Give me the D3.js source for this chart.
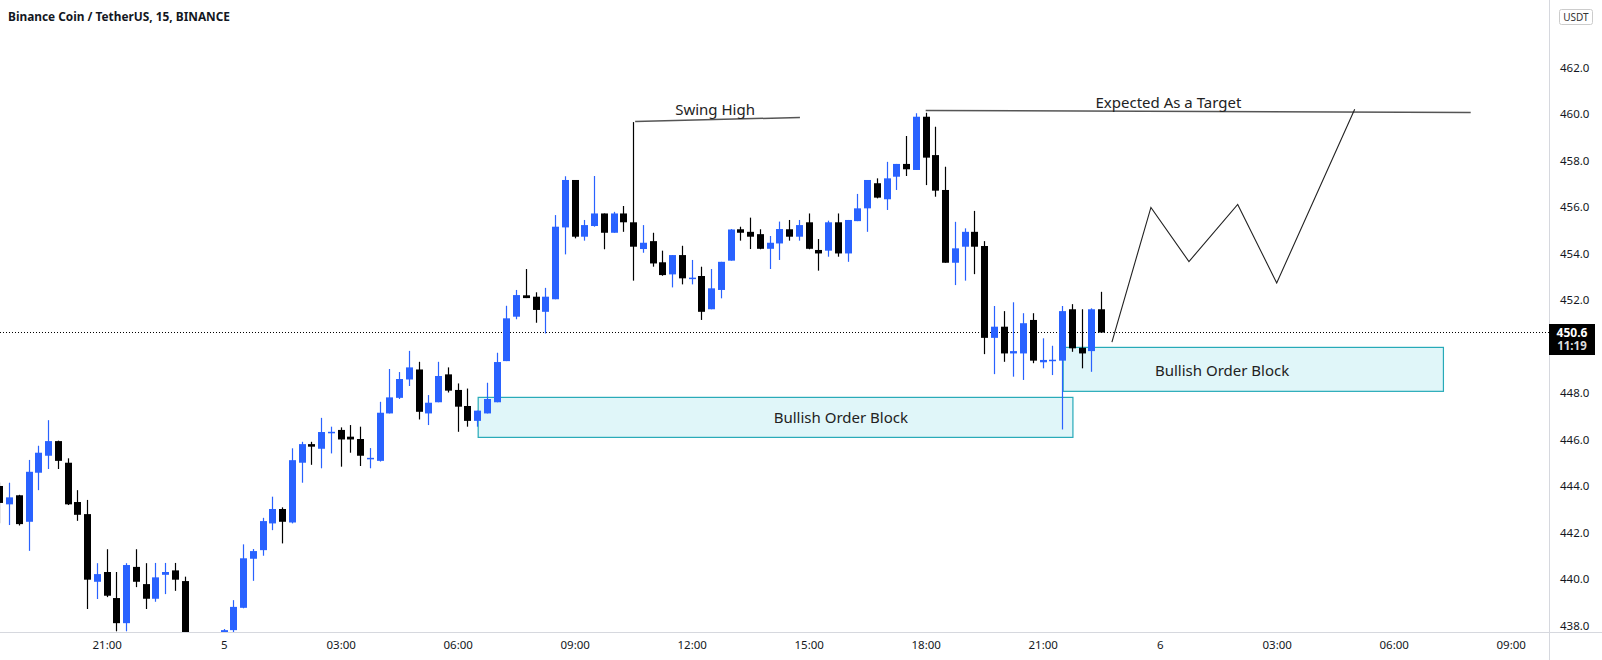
<!DOCTYPE html>
<html><head><meta charset="utf-8">
<script src="https://cdn.jsdelivr.net/npm/d3@7/dist/d3.min.js"></script>
<style>
html,body{margin:0;padding:0;background:#fff;}
svg{display:block;}
</style></head>
<body>
<svg id="c" width="1602" height="660"></svg>
<script>
// ---- DATA ----
const times = ["18:15","18:30","18:45","19:00","19:15","19:30","19:45","20:00","20:15","20:30","20:45","21:00","21:15","21:30","21:45","22:00","22:15","22:30","22:45","23:00","23:15","23:30","23:45",
"00:00","00:15","00:30","00:45","01:00","01:15","01:30","01:45","02:00","02:15","02:30","02:45","03:00","03:15","03:30","03:45","04:00","04:15","04:30","04:45","05:00","05:15","05:30","05:45","06:00","06:15","06:30","06:45","07:00","07:15","07:30","07:45","08:00","08:15","08:30","08:45","09:00","09:15","09:30","09:45","10:00","10:15","10:30","10:45","11:00","11:15","11:30","11:45","12:00","12:15","12:30","12:45","13:00","13:15","13:30","13:45","14:00","14:15","14:30","14:45","15:00","15:15","15:30","15:45","16:00","16:15","16:30","16:45","17:00","17:15","17:30","17:45","18:00","18:15","18:30","18:45","19:00","19:15","19:30","19:45","20:00","20:15","20:30","20:45","21:00","21:15","21:30","21:45","22:00","22:15","22:30"];
const open  = [444.00,443.21,443.60,442.46,444.57,445.30,445.93,445.00,443.31,442.79,439.88,440.30,439.18,438.10,440.52,439.78,439.15,440.18,440.37,439.91,437.30,437.10,436.90,
437.20,437.80,438.76,440.87,441.24,442.39,443.01,442.43,445.00,445.80,445.60,446.28,446.41,446.12,446.02,445.17,445.08,447.12,447.79,448.58,449.01,447.12,447.60,448.80,448.13,447.44,446.80,447.12,447.60,449.37,451.28,452.20,452.14,451.49,452.03,455.12,457.16,454.72,455.18,455.72,454.89,455.72,455.34,454.19,454.53,453.62,453.10,453.93,452.91,453.03,451.60,452.43,453.69,455.04,454.93,454.83,454.20,454.43,455.04,454.72,455.34,454.15,454.12,455.34,454.00,455.39,455.94,457.02,456.33,457.30,457.85,457.59,459.88,458.23,456.73,453.60,454.29,454.93,454.32,450.37,450.85,449.70,449.70,451.14,449.32,449.40,449.39,451.60,449.94,449.80,451.60];
const high  = [444.15,444.14,443.62,445.12,445.73,446.83,445.95,445.19,443.82,443.40,440.68,441.28,440.30,440.68,441.28,440.68,440.69,440.69,440.69,440.10,437.50,437.40,437.50,
437.85,439.09,441.49,441.29,442.63,443.54,443.08,445.62,445.90,445.90,446.93,446.55,446.52,446.62,446.55,445.63,447.62,449.03,448.90,449.81,449.34,447.91,449.34,449.10,448.41,448.19,447.24,448.44,449.73,451.75,452.43,453.33,452.33,452.52,455.65,457.32,457.16,455.44,457.33,455.72,455.79,456.04,459.65,455.22,454.89,454.12,453.93,454.33,453.72,453.43,453.33,453.64,455.05,455.15,455.54,455.04,454.75,455.37,455.44,455.44,455.72,454.62,455.41,455.72,455.44,456.56,457.16,457.23,457.94,457.85,459.05,460.03,460.05,459.45,457.73,455.36,455.08,455.83,454.53,451.74,451.52,451.90,451.43,451.43,450.35,450.03,451.74,451.82,451.60,451.64,452.35];
const low   = [442.40,442.32,442.30,441.21,443.82,444.73,444.73,443.18,442.50,438.71,439.14,439.22,437.75,437.75,439.65,438.71,439.02,439.35,439.49,437.00,436.60,436.50,436.60,
437.00,437.60,438.74,439.92,441.00,442.10,441.53,442.39,444.14,444.91,444.76,445.40,444.83,445.43,444.86,444.76,445.05,447.12,447.74,448.30,446.86,446.62,447.60,448.02,446.33,446.55,446.55,447.12,447.60,449.37,451.17,452.08,451.02,450.56,452.03,453.96,454.65,454.55,455.15,454.18,454.89,454.93,452.83,454.03,453.43,453.04,452.54,452.67,452.67,451.14,451.60,452.07,453.69,454.55,454.19,454.18,453.33,453.72,454.55,454.55,454.18,453.26,453.86,453.86,453.64,455.39,454.93,456.37,455.87,456.73,457.33,457.59,456.94,456.44,453.60,452.64,452.83,453.11,449.67,448.81,449.34,448.70,448.56,449.28,449.06,448.77,446.43,449.77,449.06,448.91,450.60];
const close = [443.27,443.51,442.36,444.61,445.43,445.93,445.08,443.21,442.76,439.97,440.21,439.28,438.10,440.60,439.88,439.15,440.07,440.30,439.97,437.30,437.10,436.90,437.20,
437.80,438.80,440.89,441.20,442.49,443.01,442.46,445.11,445.80,445.69,446.32,446.33,446.00,446.00,445.30,445.21,447.15,447.81,448.60,449.10,447.19,447.58,448.73,448.10,447.41,446.80,447.24,447.74,449.33,451.21,452.21,452.08,451.57,452.14,455.15,457.16,454.72,455.22,455.72,454.89,455.72,455.34,454.29,454.46,453.57,453.07,453.93,452.93,452.96,451.49,452.50,453.64,455.03,454.89,454.72,454.20,454.46,455.05,454.72,455.22,454.20,454.00,455.34,454.00,455.44,455.94,457.16,456.40,457.23,457.85,457.62,459.88,458.12,456.70,453.60,454.22,454.93,454.29,450.37,450.85,449.70,449.80,451.00,449.39,449.42,449.43,451.52,449.92,449.70,451.60,450.60];

const priceTicks = [438,440,442,444,446,448,452,454,456,458,460,462];
const timeTickIdx = [11,23,35,47,59,71,83,95,107,119,131,143,155];
const timeTickLabels = ["21:00","5","03:00","06:00","09:00","12:00","15:00","18:00","21:00","6","03:00","06:00","09:00"];

const lastPrice = 450.6;
const countdown = "11:19";
const title = "Binance Coin / TetherUS, 15, BINANCE";

// annotations (bar index, price)
const swingLine = [[65.2,459.67],[82.1,459.85]];
const targetLine = [[95.0,460.15],[150.9,460.06]];
const zigzag = [[114.1,450.19],[118.1,455.98],[122.0,453.65],[127.0,456.11],[131.0,452.73],[139.0,460.2]];
const blocks = [
  {x0:49.1, x1:110.1, p0:447.81, p1:446.09, li:86.3, lp:446.92, label:"Bullish Order Block"},
  {x0:109.1, x1:148.1, p0:449.96, p1:448.07, li:125.4, lp:448.94, label:"Bullish Order Block"}
];
const texts = [
  {i:73.4, p:460.2, t:"Swing High"},
  {i:119.9, p:460.5, t:"Expected As a Target"}
];

// ---- LAYOUT ----
const W = 1602, H = 660;
const plotR = 1549, plotB = 632;
const svg = d3.select("#c");
const x = d3.scaleLinear().domain([0,155]).range([-0.55,1510.7]);
const y = d3.scaleLinear().domain([437.72,464.9]).range([plotB,0]);
const UP = "#2962ff", DN = "#000000";
const FONT = "'Noto Sans', 'Open Sans', sans-serif";

svg.append("rect").attr("width",W).attr("height",H).attr("fill","#fff");
svg.append("defs").append("clipPath").attr("id","clip")
  .append("rect").attr("x",0).attr("y",0).attr("width",plotR).attr("height",plotB);

const plot = svg.append("g").attr("clip-path","url(#clip)");

// order blocks (behind candles)
plot.selectAll("rect.ob").data(blocks).join("rect").attr("class","ob")
  .attr("x",d=>x(d.x0)).attr("y",d=>y(d.p0))
  .attr("width",d=>x(d.x1)-x(d.x0)).attr("height",d=>y(d.p1)-y(d.p0))
  .attr("fill","#e0f6f9").attr("stroke","#26aab8").attr("stroke-width",1.2);

// last price dotted line
plot.append("line").attr("x1",0).attr("x2",plotR).attr("y1",y(lastPrice)).attr("y2",y(lastPrice))
  .attr("stroke","#000").attr("stroke-width",1).attr("stroke-dasharray","1,2");

// candles
const idx = d3.range(times.length);
const bw = 7;
plot.selectAll("line.wick").data(idx).join("line").attr("class","wick")
  .attr("x1",i=>Math.round(x(i))+0.5).attr("x2",i=>Math.round(x(i))+0.5)
  .attr("y1",i=>y(high[i])).attr("y2",i=>y(low[i]))
  .attr("stroke",i=>close[i]>=open[i]?UP:DN).attr("stroke-width",1.2);
plot.selectAll("rect.body").data(idx).join("rect").attr("class","body")
  .attr("x",i=>Math.round(x(i))+0.5-bw/2)
  .attr("y",i=>y(Math.max(open[i],close[i])))
  .attr("width",bw)
  .attr("height",i=>Math.max(1.5,Math.abs(y(open[i])-y(close[i]))))
  .attr("fill",i=>close[i]>=open[i]?UP:DN);

// annotation lines
const ln = d3.line().x(d=>x(d[0])).y(d=>y(d[1]));
plot.append("path").attr("d",ln(swingLine)).attr("fill","none").attr("stroke","#555").attr("stroke-width",1.5);
plot.append("path").attr("d",ln(targetLine)).attr("fill","none").attr("stroke","#555").attr("stroke-width",1.5);
plot.append("path").attr("d",ln(zigzag)).attr("fill","none").attr("stroke","#222").attr("stroke-width",1.1);

// block labels
plot.selectAll("text.obl").data(blocks).join("text").attr("class","obl")
  .attr("x",d=>x(d.li)).attr("y",d=>y(d.lp))
  .attr("dy","0.35em").attr("text-anchor","middle")
  .attr("font-family",FONT).attr("font-size",15).attr("fill","#222").text(d=>d.label);
plot.selectAll("text.ann").data(texts).join("text").attr("class","ann")
  .attr("x",d=>x(d.i)).attr("y",d=>y(d.p)).attr("dy","0.35em").attr("text-anchor","middle")
  .attr("font-family",FONT).attr("font-size",15).attr("fill","#222").text(d=>d.t);

// axes
svg.append("line").attr("x1",plotR+0.5).attr("x2",plotR+0.5).attr("y1",0).attr("y2",H).attr("stroke","#d6d8de");
svg.append("line").attr("x1",0).attr("x2",W).attr("y1",plotB+0.5).attr("y2",plotB+0.5).attr("stroke","#d6d8de");

const yAxis = d3.axisRight(y).tickValues(priceTicks).tickSize(0).tickPadding(11).tickFormat(d3.format(".1f"));
const gy = svg.append("g").attr("transform",`translate(${plotR},0)`).call(yAxis);
gy.select(".domain").remove();
gy.selectAll("text").attr("font-family",FONT).attr("font-size",11.5).attr("fill","#131722");

const xAxis = d3.axisBottom(x).tickValues(timeTickIdx).tickSize(0).tickPadding(9)
  .tickFormat((d,k)=>timeTickLabels[k]);
const gx = svg.append("g").attr("transform",`translate(0,${plotB})`).call(xAxis);
gx.select(".domain").remove();
gx.selectAll("text").attr("font-family",FONT).attr("font-size",11.5).attr("fill","#131722");

// last price label
const pl = svg.append("g");
pl.append("rect").attr("x",plotR).attr("y",y(lastPrice)-8.5).attr("width",46).attr("height",31).attr("fill","#000");
pl.append("text").attr("x",plotR+23).attr("y",y(lastPrice)).attr("dy","0.35em").attr("text-anchor","middle")
  .attr("font-family",FONT).attr("font-size",12).attr("font-weight","bold").attr("fill","#fff").text(lastPrice.toFixed(1));
pl.append("text").attr("x",plotR+23).attr("y",y(lastPrice)+13.5).attr("dy","0.35em").attr("text-anchor","middle")
  .attr("font-family",FONT).attr("font-size",11.5).attr("font-weight","bold").attr("fill","#ddd").text(countdown);

// USDT badge
svg.append("rect").attr("x",1559.5).attr("y",9.5).attr("width",33).attr("height",15).attr("rx",2)
  .attr("fill","#fff").attr("stroke","#ccc");
svg.append("text").attr("x",1576).attr("y",17).attr("dy","0.35em").attr("text-anchor","middle")
  .attr("font-family",FONT).attr("font-size",10).attr("fill","#333").text("USDT");

// title
svg.append("text").attr("x",8).attr("y",16).attr("dy","0.35em")
  .attr("font-family",FONT).attr("font-size",13).attr("font-weight","bold").attr("fill","#131722")
  .attr("textLength",222).attr("lengthAdjust","spacingAndGlyphs").text(title);
</script>
</body></html>
